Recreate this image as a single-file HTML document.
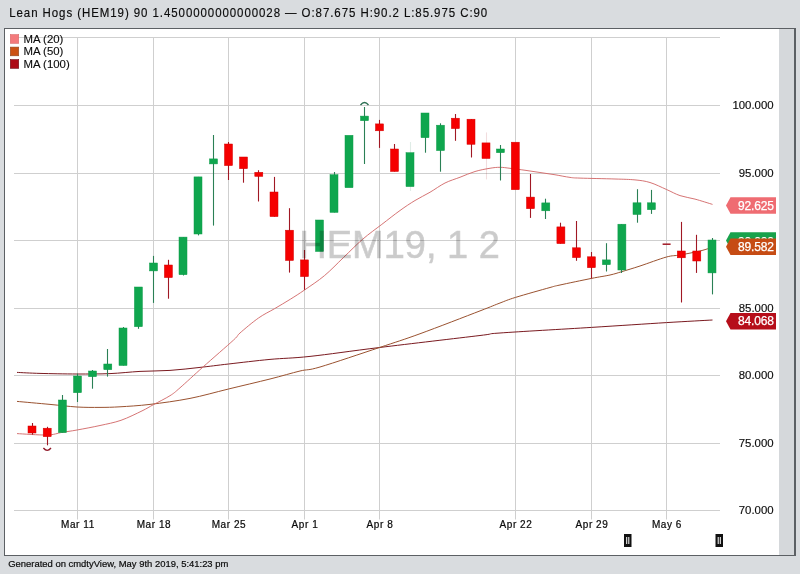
<!DOCTYPE html><html><head><meta charset="utf-8"><style>html,body{margin:0;padding:0;background:#d9dcdf;width:800px;height:574px;overflow:hidden}svg{display:block;will-change:transform}text{font-family:"Liberation Sans",sans-serif}</style></head><body>
<svg width="800" height="574" viewBox="0 0 800 574">
<rect x="0" y="0" width="800" height="574" fill="#d9dcdf"/>
<rect x="5" y="29" width="789" height="526" fill="#ffffff"/>
<rect x="779" y="29" width="15" height="526" fill="#d5d8db"/>
<rect x="4" y="28" width="792" height="1" fill="#5c6064"/><rect x="4" y="28" width="1" height="528" fill="#5c6064"/><rect x="4" y="555" width="792" height="1" fill="#5c6064"/><rect x="794" y="28" width="2" height="528" fill="#5c6064"/>
<text transform="translate(0,16.6) scale(1,1.12)" x="9.2" y="0" font-size="11.5" letter-spacing="0.93" fill="#0c0c0c" stroke="#0c0c0c" stroke-width="0.15">Lean Hogs (HEM19) 90 1.4500000000000028 — O:87.675 H:90.2 L:85.975 C:90</text>
<line x1="14" y1="37.5" x2="720" y2="37.5" stroke="#cfcfcf" stroke-width="1"/>
<line x1="14" y1="105.5" x2="720" y2="105.5" stroke="#cfcfcf" stroke-width="1"/>
<line x1="14" y1="173.5" x2="720" y2="173.5" stroke="#cfcfcf" stroke-width="1"/>
<line x1="14" y1="240.5" x2="720" y2="240.5" stroke="#cfcfcf" stroke-width="1"/>
<line x1="14" y1="308.5" x2="720" y2="308.5" stroke="#cfcfcf" stroke-width="1"/>
<line x1="14" y1="375.5" x2="720" y2="375.5" stroke="#cfcfcf" stroke-width="1"/>
<line x1="14" y1="443.5" x2="720" y2="443.5" stroke="#cfcfcf" stroke-width="1"/>
<line x1="14" y1="510.5" x2="720" y2="510.5" stroke="#cfcfcf" stroke-width="1"/>
<line x1="77.5" y1="37" x2="77.5" y2="519.5" stroke="#cfcfcf" stroke-width="1"/>
<line x1="153.5" y1="37" x2="153.5" y2="519.5" stroke="#cfcfcf" stroke-width="1"/>
<line x1="228.5" y1="37" x2="228.5" y2="519.5" stroke="#cfcfcf" stroke-width="1"/>
<line x1="304.5" y1="37" x2="304.5" y2="519.5" stroke="#cfcfcf" stroke-width="1"/>
<line x1="379.5" y1="37" x2="379.5" y2="519.5" stroke="#cfcfcf" stroke-width="1"/>
<line x1="515.5" y1="37" x2="515.5" y2="519.5" stroke="#cfcfcf" stroke-width="1"/>
<line x1="591.5" y1="37" x2="591.5" y2="519.5" stroke="#cfcfcf" stroke-width="1"/>
<line x1="666.5" y1="37" x2="666.5" y2="519.5" stroke="#cfcfcf" stroke-width="1"/>
<text x="773.6" y="109.3" font-size="11.4" text-anchor="end" fill="#0c0c0c" stroke="#0c0c0c" stroke-width="0.15">100.000</text>
<text x="773.6" y="177.3" font-size="11.4" text-anchor="end" fill="#0c0c0c" stroke="#0c0c0c" stroke-width="0.15">95.000</text>
<text x="773.6" y="244.3" font-size="11.4" text-anchor="end" fill="#0c0c0c" stroke="#0c0c0c" stroke-width="0.15">90.000</text>
<text x="773.6" y="312.3" font-size="11.4" text-anchor="end" fill="#0c0c0c" stroke="#0c0c0c" stroke-width="0.15">85.000</text>
<text x="773.6" y="379.3" font-size="11.4" text-anchor="end" fill="#0c0c0c" stroke="#0c0c0c" stroke-width="0.15">80.000</text>
<text x="773.6" y="447.3" font-size="11.4" text-anchor="end" fill="#0c0c0c" stroke="#0c0c0c" stroke-width="0.15">75.000</text>
<text x="773.6" y="514.3" font-size="11.4" text-anchor="end" fill="#0c0c0c" stroke="#0c0c0c" stroke-width="0.15">70.000</text>
<text x="77.95" y="527.8" font-size="10" letter-spacing="0.55" text-anchor="middle" fill="#0c0c0c" stroke="#0c0c0c" stroke-width="0.22">Mar 11</text>
<text x="153.95" y="527.8" font-size="10" letter-spacing="0.55" text-anchor="middle" fill="#0c0c0c" stroke="#0c0c0c" stroke-width="0.22">Mar 18</text>
<text x="228.95" y="527.8" font-size="10" letter-spacing="0.55" text-anchor="middle" fill="#0c0c0c" stroke="#0c0c0c" stroke-width="0.22">Mar 25</text>
<text x="304.95" y="527.8" font-size="10" letter-spacing="0.55" text-anchor="middle" fill="#0c0c0c" stroke="#0c0c0c" stroke-width="0.22">Apr 1</text>
<text x="379.95" y="527.8" font-size="10" letter-spacing="0.55" text-anchor="middle" fill="#0c0c0c" stroke="#0c0c0c" stroke-width="0.22">Apr 8</text>
<text x="515.95" y="527.8" font-size="10" letter-spacing="0.55" text-anchor="middle" fill="#0c0c0c" stroke="#0c0c0c" stroke-width="0.22">Apr 22</text>
<text x="591.95" y="527.8" font-size="10" letter-spacing="0.55" text-anchor="middle" fill="#0c0c0c" stroke="#0c0c0c" stroke-width="0.22">Apr 29</text>
<text x="666.95" y="527.8" font-size="10" letter-spacing="0.55" text-anchor="middle" fill="#0c0c0c" stroke="#0c0c0c" stroke-width="0.22">May 6</text>
<path d="M17.00,372.40 C20.83,372.57 30.00,373.13 40.00,373.40 C50.00,373.67 65.33,373.97 77.00,374.00 C88.67,374.03 99.50,374.03 110.00,373.60 C120.50,373.17 130.00,371.93 140.00,371.40 C150.00,370.87 160.00,371.07 170.00,370.40 C180.00,369.73 190.25,368.47 200.00,367.40 C209.75,366.33 216.83,365.33 228.50,364.00 C240.17,362.67 256.42,360.67 270.00,359.40 C283.58,358.13 291.75,358.38 310.00,356.40 C328.25,354.42 351.17,350.98 379.50,347.50 C407.83,344.02 459.92,337.92 480.00,335.50 C500.08,333.08 481.42,334.35 500.00,333.00 C518.58,331.65 563.75,329.13 591.50,327.40 C619.25,325.67 646.33,323.83 666.50,322.60 C686.67,321.37 704.83,320.43 712.50,320.00" fill="none" stroke="#7a1a20" stroke-width="1"/>
<path d="M17.00,401.40 C22.50,401.90 40.00,403.47 50.00,404.40 C60.00,405.33 68.67,406.50 77.00,407.00 C85.33,407.50 92.83,407.43 100.00,407.40 C107.17,407.37 111.67,407.30 120.00,406.80 C128.33,406.30 138.33,405.80 150.00,404.40 C161.67,403.00 176.92,400.97 190.00,398.40 C203.08,395.83 215.17,392.23 228.50,389.00 C241.83,385.77 258.08,382.00 270.00,379.00 C281.92,376.00 291.67,373.00 300.00,371.00 C308.33,369.00 306.75,370.92 320.00,367.00 C333.25,363.08 362.83,353.04 379.50,347.50 C396.17,341.96 403.25,339.85 420.00,333.75 C436.75,327.65 466.67,316.02 480.00,310.90 C493.33,305.77 494.08,305.25 500.00,303.00 C505.92,300.75 507.17,299.98 515.50,297.40 C523.83,294.82 542.58,289.57 550.00,287.50 C557.42,285.43 553.08,286.52 560.00,285.00 C566.92,283.48 583.17,280.07 591.50,278.40 C599.83,276.73 604.92,276.13 610.00,275.00 C615.08,273.87 617.00,273.10 622.00,271.60 C627.00,270.10 632.58,268.43 640.00,266.00 C647.42,263.57 659.83,258.83 666.50,257.00 C673.17,255.17 674.42,256.00 680.00,255.00 C685.58,254.00 694.50,252.33 700.00,251.00 C705.50,249.67 710.83,247.67 713.00,247.00" fill="none" stroke="#9a5230" stroke-width="1"/>
<path d="M17.00,433.60 C22.00,433.83 39.50,435.20 47.00,435.00 C54.50,434.80 57.00,433.23 62.00,432.40 C67.00,431.57 70.67,431.15 77.00,430.00 C83.33,428.85 92.67,427.12 100.00,425.50 C107.33,423.88 114.00,422.73 121.00,420.30 C128.00,417.87 136.58,413.52 142.00,410.90 C147.42,408.28 148.83,407.13 153.50,404.60 C158.17,402.07 165.58,398.50 170.00,395.70 C174.42,392.90 174.50,392.58 180.00,387.80 C185.50,383.02 194.07,374.97 203.00,367.00 C211.93,359.03 227.43,345.67 233.60,340.00 C239.77,334.33 235.85,336.67 240.00,333.00 C244.15,329.33 252.72,322.07 258.50,318.00 C264.28,313.93 269.38,311.73 274.70,308.60 C280.02,305.47 285.43,302.30 290.40,299.20 C295.37,296.10 298.83,293.92 304.50,290.00 C310.17,286.08 317.90,281.12 324.40,275.70 C330.90,270.28 337.12,263.58 343.50,257.50 C349.88,251.42 356.32,244.72 362.70,239.20 C369.08,233.68 375.58,229.18 381.80,224.40 C388.02,219.62 394.47,214.48 400.00,210.50 C405.53,206.52 410.00,203.54 415.00,200.50 C420.00,197.46 425.00,195.17 430.00,192.25 C435.00,189.33 440.00,185.50 445.00,183.00 C450.00,180.50 455.00,179.17 460.00,177.25 C465.00,175.33 470.00,173.00 475.00,171.50 C480.00,170.00 485.83,168.95 490.00,168.25 C494.17,167.55 496.67,167.29 500.00,167.30 C503.33,167.31 505.83,167.81 510.00,168.30 C514.17,168.79 520.00,169.55 525.00,170.25 C530.00,170.95 535.00,171.75 540.00,172.50 C545.00,173.25 550.00,173.93 555.00,174.75 C560.00,175.57 565.83,176.84 570.00,177.40 C574.17,177.96 572.50,177.83 580.00,178.10 C587.50,178.37 605.83,178.70 615.00,179.00 C624.17,179.30 629.17,179.32 635.00,179.90 C640.83,180.48 644.75,180.90 650.00,182.50 C655.25,184.10 661.50,187.32 666.50,189.50 C671.50,191.68 675.25,194.00 680.00,195.60 C684.75,197.20 689.58,197.63 695.00,199.10 C700.42,200.57 709.58,203.52 712.50,204.40" fill="none" stroke="#d06464" stroke-width="0.9"/>
<line x1="32.5" y1="423" x2="32.5" y2="434.6" stroke="#a01824" stroke-width="1.1"/>
<rect x="28.0" y="426" width="8.0" height="7.0" fill="#f50000" stroke="#d40000" stroke-width="0.5"/>
<line x1="47.5" y1="426.8" x2="47.5" y2="445.3" stroke="#a01824" stroke-width="1.1"/>
<rect x="43.2" y="428.2" width="8.0" height="8.5" fill="#f50000" stroke="#d40000" stroke-width="0.5"/>
<line x1="62.5" y1="395" x2="62.5" y2="432.6" stroke="#2a8055" stroke-width="1.1"/>
<rect x="58.4" y="400" width="8.0" height="32.6" fill="#0fa64e" stroke="#0e9c4a" stroke-width="0.5"/>
<line x1="77.5" y1="373.6" x2="77.5" y2="402" stroke="#2a8055" stroke-width="1.1"/>
<rect x="73.5" y="376" width="8.0" height="16.7" fill="#0fa64e" stroke="#0e9c4a" stroke-width="0.5"/>
<line x1="92.5" y1="370" x2="92.5" y2="388.7" stroke="#2a8055" stroke-width="1.1"/>
<rect x="88.5" y="371" width="8.0" height="5.7" fill="#0fa64e" stroke="#0e9c4a" stroke-width="0.5"/>
<line x1="107.5" y1="349" x2="107.5" y2="376.6" stroke="#2a8055" stroke-width="1.1"/>
<rect x="103.8" y="364" width="8.0" height="5.7" fill="#0fa64e" stroke="#0e9c4a" stroke-width="0.5"/>
<line x1="123.5" y1="327" x2="123.5" y2="365.5" stroke="#2a8055" stroke-width="1.1"/>
<rect x="119.0" y="328" width="8.0" height="37.5" fill="#0fa64e" stroke="#0e9c4a" stroke-width="0.5"/>
<line x1="138.5" y1="287" x2="138.5" y2="328.8" stroke="#2a8055" stroke-width="1.1"/>
<rect x="134.4" y="287" width="8.0" height="39.7" fill="#0fa64e" stroke="#0e9c4a" stroke-width="0.5"/>
<line x1="153.5" y1="255.9" x2="153.5" y2="302.9" stroke="#2a8055" stroke-width="1.1"/>
<rect x="149.5" y="263" width="8.0" height="7.9" fill="#0fa64e" stroke="#0e9c4a" stroke-width="0.5"/>
<line x1="168.5" y1="259.8" x2="168.5" y2="298.7" stroke="#a01824" stroke-width="1.1"/>
<rect x="164.4" y="265" width="8.0" height="12.6" fill="#f50000" stroke="#d40000" stroke-width="0.5"/>
<line x1="183.5" y1="237.1" x2="183.5" y2="275.5" stroke="#2a8055" stroke-width="1.1"/>
<rect x="179.0" y="237.1" width="8.0" height="37.6" fill="#0fa64e" stroke="#0e9c4a" stroke-width="0.5"/>
<line x1="198.5" y1="176.9" x2="198.5" y2="235.4" stroke="#2a8055" stroke-width="1.1"/>
<rect x="194.0" y="176.9" width="8.0" height="57.1" fill="#0fa64e" stroke="#0e9c4a" stroke-width="0.5"/>
<line x1="213.5" y1="135" x2="213.5" y2="225.6" stroke="#2a8055" stroke-width="1.1"/>
<rect x="209.5" y="158.9" width="8.0" height="5.0" fill="#0fa64e" stroke="#0e9c4a" stroke-width="0.5"/>
<line x1="228.5" y1="142" x2="228.5" y2="180" stroke="#a01824" stroke-width="1.1"/>
<rect x="224.5" y="144" width="8.0" height="21.6" fill="#f50000" stroke="#d40000" stroke-width="0.5"/>
<line x1="243.5" y1="157" x2="243.5" y2="182.7" stroke="#a01824" stroke-width="1.1"/>
<rect x="239.5" y="157" width="8.0" height="11.7" fill="#f50000" stroke="#d40000" stroke-width="0.5"/>
<line x1="258.5" y1="170.2" x2="258.5" y2="201.5" stroke="#a01824" stroke-width="1.1"/>
<rect x="254.8" y="172.3" width="8.0" height="4.1" fill="#f50000" stroke="#d40000" stroke-width="0.5"/>
<line x1="274.5" y1="176.9" x2="274.5" y2="216.6" stroke="#a01824" stroke-width="1.1"/>
<rect x="270.0" y="192" width="8.0" height="24.6" fill="#f50000" stroke="#d40000" stroke-width="0.5"/>
<line x1="289.5" y1="208.2" x2="289.5" y2="272.6" stroke="#a01824" stroke-width="1.1"/>
<rect x="285.5" y="230.2" width="8.0" height="30.3" fill="#f50000" stroke="#d40000" stroke-width="0.5"/>
<line x1="304.5" y1="250" x2="304.5" y2="289.8" stroke="#a01824" stroke-width="1.1"/>
<rect x="300.5" y="259.9" width="8.0" height="16.7" fill="#f50000" stroke="#d40000" stroke-width="0.5"/>
<rect x="315.5" y="220" width="8.0" height="31.5" fill="#0fa64e" stroke="#0e9c4a" stroke-width="0.5"/>
<line x1="334.5" y1="172" x2="334.5" y2="212.4" stroke="#2a8055" stroke-width="1.1"/>
<rect x="330.0" y="174.7" width="8.0" height="37.7" fill="#0fa64e" stroke="#0e9c4a" stroke-width="0.5"/>
<rect x="345.0" y="135.3" width="8.0" height="52.4" fill="#0fa64e" stroke="#0e9c4a" stroke-width="0.5"/>
<line x1="364.5" y1="107" x2="364.5" y2="164" stroke="#2a8055" stroke-width="1.1"/>
<rect x="360.5" y="116.1" width="8.0" height="4.6" fill="#0fa64e" stroke="#0e9c4a" stroke-width="0.5"/>
<line x1="379.5" y1="119.9" x2="379.5" y2="147.9" stroke="#a01824" stroke-width="1.1"/>
<rect x="375.5" y="123.9" width="8.0" height="6.9" fill="#f50000" stroke="#d40000" stroke-width="0.5"/>
<line x1="394.5" y1="144" x2="394.5" y2="171.5" stroke="#a01824" stroke-width="1.1"/>
<rect x="390.5" y="149" width="8.0" height="22.5" fill="#f50000" stroke="#d40000" stroke-width="0.5"/>
<line x1="410.5" y1="142" x2="410.5" y2="191" stroke="#2a8055" stroke-opacity="0.15" stroke-width="1.1"/>
<rect x="406.0" y="152.7" width="8.0" height="33.9" fill="#0fa64e" stroke="#0e9c4a" stroke-width="0.5"/>
<line x1="425.5" y1="113" x2="425.5" y2="152.7" stroke="#2a8055" stroke-width="1.1"/>
<rect x="421.0" y="113" width="8.0" height="24.7" fill="#0fa64e" stroke="#0e9c4a" stroke-width="0.5"/>
<line x1="440.5" y1="123.3" x2="440.5" y2="171.7" stroke="#2a8055" stroke-width="1.1"/>
<rect x="436.5" y="125.2" width="8.0" height="25.4" fill="#0fa64e" stroke="#0e9c4a" stroke-width="0.5"/>
<line x1="455.5" y1="114" x2="455.5" y2="140.8" stroke="#a01824" stroke-width="1.1"/>
<rect x="451.4" y="118.2" width="8.0" height="10.4" fill="#f50000" stroke="#d40000" stroke-width="0.5"/>
<line x1="471.5" y1="119.2" x2="471.5" y2="157.5" stroke="#a01824" stroke-width="1.1"/>
<rect x="467.0" y="119.2" width="8.0" height="25.1" fill="#f50000" stroke="#d40000" stroke-width="0.5"/>
<line x1="486.5" y1="132.4" x2="486.5" y2="179.4" stroke="#a01824" stroke-opacity="0.15" stroke-width="1.1"/>
<rect x="482.0" y="142.9" width="8.0" height="15.6" fill="#f50000" stroke="#d40000" stroke-width="0.5"/>
<line x1="500.5" y1="145" x2="500.5" y2="180.5" stroke="#2a8055" stroke-width="1.1"/>
<rect x="496.4" y="149" width="8.0" height="3.7" fill="#0fa64e" stroke="#0e9c4a" stroke-width="0.5"/>
<rect x="511.3" y="142.2" width="8.0" height="47.5" fill="#f50000" stroke="#d40000" stroke-width="0.5"/>
<line x1="530.5" y1="174" x2="530.5" y2="217.9" stroke="#a01824" stroke-width="1.1"/>
<rect x="526.5" y="197.1" width="8.0" height="11.6" fill="#f50000" stroke="#d40000" stroke-width="0.5"/>
<line x1="545.5" y1="198.7" x2="545.5" y2="219" stroke="#2a8055" stroke-width="1.1"/>
<rect x="541.8" y="202.9" width="8.0" height="7.9" fill="#0fa64e" stroke="#0e9c4a" stroke-width="0.5"/>
<line x1="560.5" y1="222.7" x2="560.5" y2="243.6" stroke="#a01824" stroke-width="1.1"/>
<rect x="556.9" y="226.9" width="8.0" height="16.7" fill="#f50000" stroke="#d40000" stroke-width="0.5"/>
<line x1="576.5" y1="221" x2="576.5" y2="260.8" stroke="#a01824" stroke-width="1.1"/>
<rect x="572.5" y="247.8" width="8.0" height="9.8" fill="#f50000" stroke="#d40000" stroke-width="0.5"/>
<line x1="591.5" y1="252" x2="591.5" y2="278.5" stroke="#a01824" stroke-width="1.1"/>
<rect x="587.4" y="256.8" width="8.0" height="10.9" fill="#f50000" stroke="#d40000" stroke-width="0.5"/>
<line x1="606.5" y1="243.2" x2="606.5" y2="271.5" stroke="#2a8055" stroke-width="1.1"/>
<rect x="602.4" y="259.9" width="8.0" height="4.8" fill="#0fa64e" stroke="#0e9c4a" stroke-width="0.5"/>
<line x1="621.5" y1="224.2" x2="621.5" y2="273" stroke="#2a8055" stroke-width="1.1"/>
<rect x="617.9" y="224.2" width="8.0" height="45.8" fill="#0fa64e" stroke="#0e9c4a" stroke-width="0.5"/>
<line x1="637.5" y1="189.2" x2="637.5" y2="222.7" stroke="#2a8055" stroke-width="1.1"/>
<rect x="633.0" y="202.8" width="8.0" height="11.7" fill="#0fa64e" stroke="#0e9c4a" stroke-width="0.5"/>
<line x1="651.5" y1="189.9" x2="651.5" y2="213.9" stroke="#2a8055" stroke-width="1.1"/>
<rect x="647.4" y="202.8" width="8.0" height="6.9" fill="#0fa64e" stroke="#0e9c4a" stroke-width="0.5"/>
<line x1="662.6" y1="244.2" x2="670.6" y2="244.2" stroke="#a01824" stroke-width="1.5"/>
<line x1="681.5" y1="221.9" x2="681.5" y2="302.5" stroke="#a01824" stroke-width="1.1"/>
<rect x="677.3" y="251" width="8.0" height="6.8" fill="#f50000" stroke="#d40000" stroke-width="0.5"/>
<line x1="696.5" y1="234.8" x2="696.5" y2="272.9" stroke="#a01824" stroke-width="1.1"/>
<rect x="692.8" y="251" width="8.0" height="10.0" fill="#f50000" stroke="#d40000" stroke-width="0.5"/>
<line x1="712.5" y1="238" x2="712.5" y2="294.4" stroke="#2a8055" stroke-width="1.1"/>
<rect x="708.0" y="240" width="8.0" height="32.9" fill="#0fa64e" stroke="#0e9c4a" stroke-width="0.5"/>
<g opacity="0.2"><text x="299.3" y="258" font-size="38" fill="#000" stroke="#000" stroke-width="0.6">HEM19, 1 2</text></g>
<path d="M43.4,448 Q47.2,452.6 51.0,448" fill="none" stroke="#901828" stroke-width="1.3"/>
<path d="M360.5,105 Q364.5,100 368.5,105" fill="none" stroke="#2a6e50" stroke-width="1.3"/>
<path d="M726,205.5 L730.5,197.2 L776,197.2 L776,213.8 L730.5,213.8 Z" fill="#ef6c72"/><text x="773.8" y="209.8" font-size="12" letter-spacing="-0.15" stroke="#fff" stroke-width="0.25" text-anchor="end" fill="#ffffff">92.625</text>
<path d="M726,240.5 L730.5,232.2 L776,232.2 L776,248.8 L730.5,248.8 Z" fill="#18a24c"/><text x="773.8" y="246.4" font-size="12" letter-spacing="-0.15" stroke="#fff" stroke-width="0.25" text-anchor="end" fill="#ffffff">90.000</text>
<path d="M726,246.8 L730.5,238.5 L776,238.5 L776,255.1 L730.5,255.1 Z" fill="#c64c14"/><text x="773.8" y="250.9" font-size="12" letter-spacing="-0.15" stroke="#fff" stroke-width="0.25" text-anchor="end" fill="#ffffff">89.582</text>
<path d="M726,321.2 L730.5,312.9 L776,312.9 L776,329.5 L730.5,329.5 Z" fill="#b60e1a"/><text x="773.8" y="324.5" font-size="12" letter-spacing="-0.15" stroke="#fff" stroke-width="0.25" text-anchor="end" fill="#ffffff">84.068</text>
<rect x="10.3" y="34.6" width="8.4" height="8.7" fill="#f47a7c" stroke="#d86a6a" stroke-width="0.6"/>
<text x="23.5" y="42.9" font-size="11.4" fill="#0c0c0c" stroke="#0c0c0c" stroke-width="0.12">MA (20)</text>
<rect x="10.3" y="47.1" width="8.4" height="8.7" fill="#cc5214" stroke="#8e4a20" stroke-width="0.6"/>
<text x="23.5" y="55.4" font-size="11.4" fill="#0c0c0c" stroke="#0c0c0c" stroke-width="0.12">MA (50)</text>
<rect x="10.3" y="59.6" width="8.4" height="8.7" fill="#ac0a16" stroke="#6e0a14" stroke-width="0.6"/>
<text x="23.5" y="67.9" font-size="11.4" fill="#0c0c0c" stroke="#0c0c0c" stroke-width="0.12">MA (100)</text>
<rect x="624" y="534" width="7.5" height="13" fill="#111"/>
<rect x="626.2" y="537" width="1" height="7" fill="#fff"/><rect x="628.3" y="537" width="1" height="7" fill="#fff"/>
<rect x="715.5" y="534" width="7.5" height="13" fill="#111"/>
<rect x="717.7" y="537" width="1" height="7" fill="#fff"/><rect x="719.8" y="537" width="1" height="7" fill="#fff"/>
<text x="8.2" y="566.6" font-size="9.45" fill="#0c0c0c" stroke="#0c0c0c" stroke-width="0.2">Generated on cmdtyView, May 9th 2019, 5:41:23 pm</text>
</svg></body></html>
